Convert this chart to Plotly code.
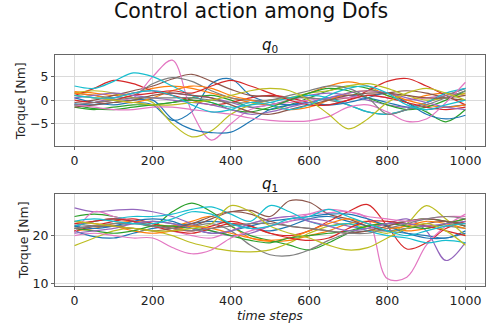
import plotly.graph_objects as go
from plotly.subplots import make_subplots

steps = list(range(0, 1001, 50))

colors = ['#1f77b4', '#ff7f0e', '#2ca02c', '#d62728', '#9467bd',
          '#8c564b', '#e377c2', '#7f7f7f', '#bcbd22', '#17becf']

# q0 control actions (values read at every 50 steps)
q0_series = [
    [0.5, -0.5, -1.0, -0.5, -1.0, -4.3, -2.5, 3.5, 4.5, 1.0, -0.5, -1.0, -0.5, 0.5, 1.0, 0.5, -0.5, -1.5, -2.0, -1.5, -1.0],
    [1.8, 1.5, 1.0, 1.5, 2.5, 3.0, 2.5, 1.5, 0.5, -0.5, -1.0, 0.0, 1.5, 3.0, 3.9, 3.0, 1.0, 0.0, 1.0, 1.5, 1.0],
    [-1.0, -1.8, -2.0, -1.5, -1.0, -0.5, 0.5, 1.0, 0.0, -1.5, -2.0, -1.0, 0.5, 2.0, 3.0, 2.5, 1.0, -0.5, -2.5, -4.6, -2.0],
    [1.0, 2.5, 4.2, 3.5, 2.0, 1.0, 0.0, -1.0, -0.5, 0.5, 1.0, 0.5, -0.5, -1.0, 0.0, 2.0, 4.0, 4.6, 3.0, 1.0, -1.0],
    [-1.0, -0.5, 0.5, 1.5, 2.0, 1.5, 1.0, 0.5, -0.5, -1.5, -1.0, 0.0, 1.0, 1.5, 1.0, 0.0, -1.0, -1.5, -0.5, 1.0, 2.5],
    [-0.5, 0.0, 1.0, 2.0, 3.0, 4.5, 5.5, 4.0, 2.3, 1.0, 0.8, 0.5, 0.5, 0.0, 0.5, 1.0, 1.5, 2.0, 1.5, 0.5, 0.0],
    [1.0, 0.5, 0.0, 0.5, 5.0, 8.5, -2.5, -8.5, -5.0, -2.0, -1.0, -0.5, 0.0, 0.5, 0.5, 1.0, 0.5, 0.0, 0.5, 1.0, 1.5],
    [1.5, 1.0, 0.5, 1.0, 3.5, 4.8, 4.0, 2.0, 0.5, 0.0, 0.0, 0.5, 0.5, 0.0, -1.0, -2.5, -3.0, -2.0, -0.5, 1.0, 2.5],
    [1.5, 2.0, 1.5, 0.5, -0.5, -5.0, -7.8, -6.5, -3.0, -1.0, 0.0, 0.5, 1.5, 2.0, 3.0, 3.5, 2.5, 1.0, 0.0, 0.5, 1.5],
    [3.0, 2.5, 4.0, 5.8, 5.0, 3.0, 1.0, -0.5, -1.5, -1.0, -0.5, 0.5, 1.0, 0.5, -1.0, -2.5, -3.0, -2.0, -0.5, 1.5, 2.5],
    [-0.8, -1.0, -0.5, 0.0, 0.0, -4.0, -6.2, -6.9, -6.8, -4.5, -2.0, -1.0, -0.5, -1.0, -0.5, 0.5, 1.5, -0.5, -3.0, -4.0, -3.2],
    [1.5, 1.0, 0.0, -0.5, 0.5, 2.0, 3.0, 2.5, 1.0, 0.0, -1.0, -2.0, -1.5, 0.0, 1.5, 2.0, 1.5, 0.0, -1.0, -1.5, -1.0],
    [-1.5, -2.0, -1.5, -1.0, -1.0, -0.5, 0.0, -0.5, -2.0, -2.5, -1.5, 0.0, 1.5, 2.5, 2.0, 0.5, -1.0, -2.0, -1.5, 0.0, 2.0],
    [0.0, -0.5, 0.0, 1.0, 1.5, 2.0, 1.5, 3.0, 4.2, 3.0, 1.5, 0.0, -1.0, -1.0, 0.0, 1.0, 0.5, -0.5, -1.5, -2.0, -1.5],
    [0.5, 1.0, 1.5, 1.0, 0.5, 0.0, -0.5, -1.0, -2.0, -3.0, -2.5, -1.5, -0.5, 0.5, 1.5, 2.0, 1.5, 0.5, -0.5, -1.5, -2.0],
    [-1.5, -1.0, -0.5, 0.0, 1.0, 1.5, 1.0, 0.5, -1.0, -2.5, -3.0, -2.0, -1.0, 0.0, 1.0, 1.5, 1.5, 1.0, 0.5, 0.5, 1.0],
    [-1.0, -1.5, -2.0, -2.0, -1.5, -1.5, -2.0, -2.5, -3.0, -3.8, -4.3, -4.5, -4.4, -3.5, -1.5, -1.0, -2.5, -4.5, -4.0, -0.5, 3.8],
    [-1.0, -0.5, 0.0, 0.5, 0.5, 0.5, 0.5, 0.0, -0.5, -0.5, 0.0, 1.0, 2.0, 3.0, 2.5, 0.5, -3.0, -2.0, -1.0, 0.5, 2.0],
    [1.0, 0.5, 0.0, -0.5, -1.0, -1.0, -0.5, 0.0, 1.0, 2.0, 2.5, 2.0, 0.0, -3.0, -6.1, -4.0, -0.5, 1.5, 2.5, 1.5, 0.0],
    [1.0, 0.5, 0.5, 1.5, 2.0, 1.0, -1.0, -2.5, -2.0, -0.5, -1.0, -2.0, -1.0, 1.0, 2.5, 3.0, 1.5, -1.0, -2.0, -1.0, 0.0],
]

# q1 control actions (values read at every 50 steps)
q1_series = [
    [21.0, 19.8, 19.5, 20.5, 21.5, 22.0, 22.5, 23.0, 22.5, 21.5, 21.0, 22.0, 23.5, 24.0, 23.0, 22.0, 21.0, 20.5, 20.0, 19.5, 21.0],
    [21.0, 21.5, 22.5, 23.0, 22.5, 22.0, 23.0, 24.0, 22.0, 19.5, 18.8, 19.0, 20.0, 21.0, 22.5, 23.0, 22.0, 21.0, 21.5, 22.5, 23.5],
    [24.0, 24.5, 24.0, 23.0, 22.0, 25.0, 26.8, 25.0, 22.0, 20.0, 19.0, 18.0, 17.0, 18.5, 20.5, 22.0, 22.5, 23.0, 23.5, 23.0, 22.0],
    [21.0, 22.0, 23.0, 23.5, 22.5, 21.5, 21.0, 22.0, 23.0, 22.0, 20.5, 20.0, 21.0, 23.0, 25.0, 26.5, 22.0, 17.2, 18.5, 21.5, 23.0],
    [25.8, 25.0, 25.3, 25.5, 25.0, 24.0, 22.5, 21.0, 20.0, 20.5, 22.0, 23.0, 23.5, 23.0, 22.0, 21.5, 22.5, 23.5, 21.0, 14.8, 18.6],
    [22.0, 23.0, 23.5, 23.0, 22.0, 21.5, 22.0, 23.5, 25.0, 25.3, 24.0, 27.3, 27.0, 24.5, 23.5, 22.0, 21.0, 21.5, 22.5, 23.0, 22.0],
    [20.5, 25.0, 24.0, 23.0, 22.0, 21.0, 20.0, 19.5, 21.0, 22.5, 23.5, 24.0, 24.5, 24.8, 25.0, 23.5, 11.0, 11.3, 18.0, 22.0, 24.5],
    [22.5, 22.0, 22.0, 22.5, 23.0, 22.5, 22.0, 22.5, 21.0, 18.0, 16.0, 15.8, 17.0, 19.0, 20.5, 21.0, 21.0, 21.5, 22.0, 22.0, 21.5],
    [17.9, 19.5, 21.0, 21.5, 21.0, 20.0, 18.5, 17.5, 16.8, 16.6, 17.0, 18.5, 20.5, 22.0, 22.5, 21.5, 20.5, 22.5, 26.3, 23.5, 20.0],
    [22.0, 23.0, 23.5, 24.0, 24.0, 24.5, 25.5, 26.0, 24.5, 23.0, 26.3, 25.0, 23.0, 22.0, 22.5, 21.0, 20.0, 19.5, 18.5, 19.0, 18.5],
    [22.0, 21.5, 22.0, 23.0, 23.5, 23.0, 21.5, 20.5, 21.0, 22.0, 23.0, 23.5, 24.0, 24.5, 24.5, 23.5, 22.0, 20.5, 19.5, 19.5, 20.5],
    [23.0, 22.5, 22.0, 21.0, 20.5, 21.0, 22.0, 21.5, 20.5, 19.5, 19.0, 19.5, 21.0, 22.5, 23.5, 22.5, 21.5, 22.0, 23.0, 22.5, 21.5],
    [21.5, 21.0, 20.5, 21.0, 22.0, 22.0, 21.5, 21.0, 20.0, 19.0, 18.5, 19.5, 20.0, 20.5, 21.0, 22.0, 22.5, 22.0, 21.5, 22.5, 23.5],
    [22.5, 23.0, 23.5, 23.0, 22.0, 21.0, 20.5, 21.5, 22.5, 22.0, 20.5, 19.5, 19.0, 19.5, 21.5, 23.0, 23.0, 22.5, 22.0, 21.0, 20.0],
    [20.5, 21.0, 21.5, 22.5, 23.0, 22.5, 21.5, 20.5, 21.0, 22.5, 23.5, 24.0, 23.0, 22.0, 21.0, 21.5, 22.5, 22.5, 22.0, 22.5, 23.0],
    [21.5, 22.0, 22.0, 21.5, 21.0, 21.5, 22.5, 24.0, 25.0, 24.5, 23.0, 22.0, 21.5, 21.0, 20.5, 21.0, 22.0, 23.0, 23.5, 23.0, 22.5],
    [20.0, 20.5, 20.0, 19.5, 19.5, 17.5, 16.2, 17.0, 19.5, 21.0, 22.0, 23.0, 24.5, 25.5, 25.0, 24.0, 23.5, 23.0, 23.5, 24.0, 24.0],
    [21.5, 22.0, 22.5, 22.5, 22.0, 21.5, 21.0, 21.5, 22.0, 22.5, 22.5, 22.0, 21.5, 21.0, 20.5, 20.5, 21.5, 22.5, 23.5, 24.0, 23.5],
    [23.0, 22.5, 22.0, 21.5, 21.0, 21.0, 21.5, 22.5, 26.3, 25.0, 22.0, 20.5, 19.5, 18.0, 17.0, 17.5, 19.5, 21.5, 22.5, 21.0, 18.0],
    [23.0, 23.5, 23.0, 22.5, 22.5, 23.5, 25.0, 24.5, 22.5, 21.5, 22.0, 23.5, 24.0, 25.5, 24.0, 22.5, 21.0, 20.0, 21.0, 22.0, 22.5],
]

x_ticks = [0, 200, 400, 600, 800, 1000]

fig = make_subplots(rows=2, cols=1, vertical_spacing=0.2)

for i, s in enumerate(q0_series):
    fig.add_trace(go.Scatter(x=steps, y=s, mode='lines',
                             line=dict(color=colors[i % 10], width=1.2, shape='spline', smoothing=1.0),
                             showlegend=False, hoverinfo='skip'), row=1, col=1)
for i, s in enumerate(q1_series):
    fig.add_trace(go.Scatter(x=steps, y=s, mode='lines',
                             line=dict(color=colors[i % 10], width=1.2, shape='spline', smoothing=1.0),
                             showlegend=False, hoverinfo='skip'), row=2, col=1)

label_font = dict(family='DejaVu Sans', size=12.5, color='#222222')
axis_common = dict(showline=True, linecolor='#666666', linewidth=1, mirror=True,
                   ticks='outside', ticklen=3, tickcolor='#666666',
                   showgrid=True, gridcolor='#dadada', gridwidth=1, zeroline=False,
                   tickfont=dict(family='DejaVu Sans', size=12.5, color='#222222'))

fig.update_xaxes(range=[-50, 1050], tickvals=x_ticks, **axis_common)
fig.update_yaxes(**axis_common)
fig.update_layout(
    xaxis=dict(domain=[0, 1]),
    yaxis=dict(domain=[0.604, 1.0], range=[-9.85, 9.6], tickvals=[-5, 0, 5],
               title=dict(text='Torque [Nm]', standoff=1, font=label_font)),
    xaxis2=dict(domain=[0, 1],
                title=dict(text='<i>time steps</i>', standoff=4, font=label_font)),
    yaxis2=dict(domain=[0.0, 0.4], range=[9.45, 28.8], tickvals=[10, 20],
                title=dict(text='Torque [Nm]', standoff=1, font=label_font)),
    width=488, height=323,
    margin=dict(l=55, r=2, t=55, b=33),
    plot_bgcolor='white', paper_bgcolor='white',
    font=dict(family='DejaVu Sans', color='#222222'),
    annotations=[
        dict(text='Control action among Dofs', xref='paper', yref='paper',
             x=0.455, y=1, yshift=30, xanchor='center', yanchor='bottom', showarrow=False,
             font=dict(family='DejaVu Sans', size=20.5, color='#111111')),
        dict(text='<i>q</i><sub>0</sub>', xref='paper', yref='paper',
             x=0.5, y=1.0, yshift=-2, xanchor='center', yanchor='bottom', showarrow=False,
             font=dict(family='DejaVu Sans', size=15, color='#111111')),
        dict(text='<i>q</i><sub>1</sub>', xref='paper', yref='paper',
             x=0.5, y=0.4, yshift=-2, xanchor='center', yanchor='bottom', showarrow=False,
             font=dict(family='DejaVu Sans', size=15, color='#111111')),
    ],
)

fig.write_html('out.html')
